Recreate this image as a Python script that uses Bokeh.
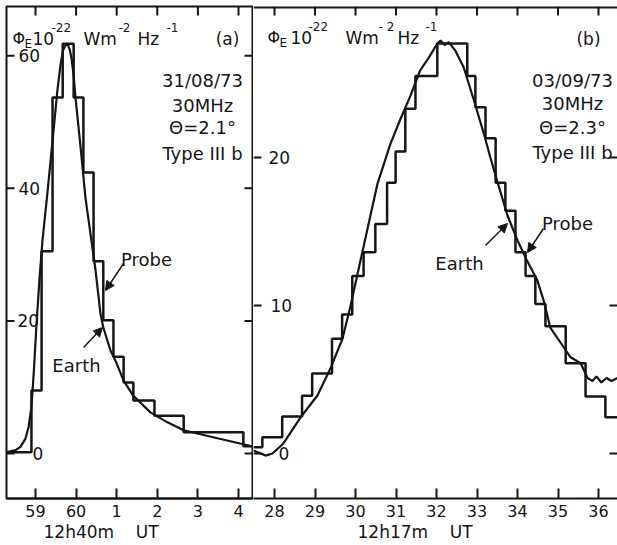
from bokeh.plotting import figure
from bokeh.layouts import row
from bokeh.models import LinearAxis, FixedTicker, Range1d, Arrow, NormalHead, Title
from bokeh.core.properties import value
from bokeh.embed import file_html
from bokeh.resources import INLINE

FONT = "DejaVu Sans"
INK = "#151515"

# ---------------- data: panel (a) 31/08/73 ----------------
a_tick_values = [59, 60, 61, 62, 63, 64]
a_tick_labels = ["59", "60", "1", "2", "3", "4"]
a_y_ticks = [0, 20, 40, 60]
a_y_labels = ["0", "20", "40", "60"]

# Probe: step histogram (bin edges in minutes, flux per bin)
probe_a_edges = [58.29, 58.90, 59.15, 59.42, 59.67, 59.94, 60.18, 60.43, 60.67,
                 60.92, 61.17, 61.41, 61.93, 62.65, 64.12, 64.35]
probe_a_vals = [0.2, 9.5, 30.5, 53.7, 61.8, 53.7, 42.4, 29.0, 20.1, 14.6, 10.7,
                8.0, 5.7, 3.2, 1.1]

# Earth: smooth curve
earth_a_t = [58.29, 58.51, 58.63, 58.75, 58.83, 58.90, 58.96, 59.02, 59.10, 59.17,
             59.30, 59.42, 59.54, 59.62, 59.68, 59.74, 59.79, 59.84, 59.89, 59.94,
             59.985, 60.11, 60.23, 60.31, 60.48, 60.60, 60.67, 60.85, 60.97, 61.17,
             61.41, 61.83, 62.25, 62.65, 63.48, 64.12, 64.35]
earth_a_v = [0.2, 0.5, 1.0, 2.2, 4.0, 7.0, 12.5, 19.0, 26.5, 32.0,
             39.7, 47.2, 54.8, 58.8, 60.8, 61.6, 61.7, 61.0, 59.5, 57.0,
             53.7, 46.2, 38.6, 35.1, 27.6, 21.1, 19.0, 15.5, 14.0, 11.0,
             8.7, 6.2, 4.7, 3.5, 2.3, 1.4, 1.05]

# ---------------- data: panel (b) 03/09/73 ----------------
b_tick_values = [28, 29, 30, 31, 32, 33, 34, 35, 36]
b_tick_labels = ["28", "29", "30", "31", "32", "33", "34", "35", "36"]
b_y_ticks = [0, 10, 20]
b_y_labels = ["0", "10", "20"]

probe_b_edges = [27.48, 27.70, 28.19, 28.68, 28.93, 29.42, 29.67, 29.92, 30.20,
                 30.49, 30.78, 30.99, 31.23, 31.48, 32.02, 32.76, 32.96, 33.21,
                 33.46, 33.70, 33.95, 34.20, 34.44, 34.69, 35.19, 35.68, 36.17, 36.47]
probe_b_vals = [0.43, 1.1, 2.5, 3.9, 5.4, 7.75, 9.4, 12.0, 13.6, 15.5, 18.3, 20.4,
                23.3, 25.5, 27.7, 25.5, 23.4, 21.3, 18.3, 16.4, 13.6, 12.0, 10.1,
                8.6, 6.1, 3.85, 2.45]

earth_b_t = [27.48, 27.78, 27.95, 28.22, 28.64, 29.06, 29.38, 29.68, 29.88, 30.12,
             30.54, 30.86, 31.11, 31.36, 31.60, 31.80, 32.02, 32.10, 32.20, 32.30,
             32.47, 32.67, 32.92, 33.17, 33.33, 33.50, 33.75, 34.00, 34.24, 34.49,
             34.65, 34.81, 35.06, 35.31, 35.56, 35.73, 35.85, 35.95, 36.07, 36.20,
             36.32, 36.47]
earth_b_v = [0.2, -0.14, 0.0, 0.68, 2.43, 3.92, 5.74, 7.77, 10.0, 13.0,
             18.2, 20.9, 22.6, 24.2, 25.9, 26.7, 27.7, 27.9, 27.6, 27.8,
             27.2, 26.1, 23.9, 21.6, 20.0, 18.4, 16.1, 14.4, 13.0, 11.7,
             10.3, 8.5, 7.5, 6.5, 6.1, 5.1, 4.9, 5.2, 4.8, 5.1,
             4.9, 5.1]


# ---------------- layout helpers (reference pixel -> data) ----------------
def ax(px): return 59 + (px - 35) / 40.6
def ay(py): return (453 - py) / 6.63
def bx(px): return 28 + (px - 274) / 40.5
def by(py): return (453 - py) / 14.8


def staircase(edges, vals):
    xs, ys = [], []
    for i, v in enumerate(vals):
        xs += [edges[i], edges[i + 1]]
        ys += [v, v]
    return xs, ys


TOP = 6        # page y of frame top
BOT = 498      # page y of frame bottom
H = 544
MB = H - BOT


def panel(width, xr, yr, xt, xl, border_left, border_right):
    p = figure(width=width, height=H, x_range=Range1d(*xr), y_range=Range1d(*yr),
               x_axis_type=None, y_axis_type=None, output_backend="svg",
               toolbar_location=None, min_border_left=border_left,
               min_border_right=border_right, min_border_top=TOP, min_border_bottom=MB)
    p.background_fill_color = "white"
    p.border_fill_color = "white"
    p.outline_line_color = None
    below = LinearAxis(ticker=FixedTicker(ticks=xt),
                       major_label_overrides={t: l for t, l in zip(xt, xl)})
    below.axis_line_color = INK
    below.axis_line_width = 2
    below.major_tick_line_color = INK
    below.major_tick_line_width = 2
    below.major_tick_in = 10
    below.major_tick_out = 0
    below.minor_tick_line_color = None
    below.major_label_text_font_size = "16px"
    below.major_label_text_font = FONT
    below.major_label_text_color = INK
    below.major_label_standoff = 6
    p.add_layout(below, "below")
    return p


def texts(p, xs, ys, labels, size, align="left", baseline="alphabetic"):
    p.text(x=xs, y=ys, text=labels, text_font=value(FONT), text_font_size=size,
           text_align=align, text_baseline=baseline, text_color=INK)


def arrow(p, x0, y0, x1, y1):
    p.add_layout(Arrow(end=NormalHead(size=9, fill_color=INK, line_color=INK, line_width=1),
                       x_start=x0, y_start=y0, x_end=x1, y_end=y1,
                       line_color=INK, line_width=1.5))


def ticks(p, xt, yt, fx, fy, x_lo, x_hi):
    # inward tick marks on the top, left and right edges
    p.segment(x0=xt, y0=[fy(TOP)] * len(xt), x1=xt, y1=[fy(TOP + 9)] * len(xt),
              line_color=INK, line_width=2)
    p.segment(x0=[fx(x_lo)] * len(yt), y0=yt, x1=[fx(x_lo + 8)] * len(yt), y1=yt,
              line_color=INK, line_width=2)
    p.segment(x0=[fx(x_hi - 8)] * len(yt), y0=yt, x1=[fx(x_hi)] * len(yt), y1=yt,
              line_color=INK, line_width=2)


# ---------------- panel (a) ----------------
A_L, A_R = 6, 252
pa = panel(A_R + 1, (ax(A_L), ax(A_R)), (ay(BOT), ay(TOP)), a_tick_values, a_tick_labels,
           A_L, 1)
pa.outline_line_color = INK
pa.outline_line_width = 2
ticks(pa, a_tick_values, a_y_ticks, ax, ay, A_L, A_R)

sx, sy = staircase(probe_a_edges, probe_a_vals)
pa.line(sx, sy, line_color=INK, line_width=2.5)
pa.line(earth_a_t, earth_a_v, line_color=INK, line_width=2.2)

texts(pa, [ax(32), ax(17), ax(18), ax(18)], a_y_ticks, a_y_labels, "17px",
      baseline="middle")

texts(pa, [ax(12)], [ay(38)], ["\u03a6"], "16px")
texts(pa, [ax(24)], [ay(43)], ["E"], "12px")
texts(pa, [ax(32), ax(83), ax(137)], [ay(38)] * 3, ["10", "Wm", "Hz"], "17px")
texts(pa, [ax(51), ax(118), ax(166)], [ay(27)] * 3, ["-22", "-2", "-1"], "12px")
texts(pa, [ax(227)], [ay(38)], ["(a)"], "17px", align="center")

texts(pa, [ax(202)] * 4, [ay(80), ay(105), ay(127), ay(153)],
      ["31/08/73", "30MHz", "\u0398=2.1\u00b0", "Type III b"], "18px", align="center")
texts(pa, [ax(146), ax(76)], [ay(259), ay(365)], ["Probe", "Earth"], "18px", align="center")
arrow(pa, ax(123), ay(263), ax(105), ay(290))
arrow(pa, ax(83), ay(347), ax(102), ay(327))

pa.add_layout(Title(text="12h40m\u00a0\u00a0\u00a0\u00a0UT", align="left", offset=37,
                    text_font=FONT, text_font_size="17px", text_font_style="normal",
                    text_color=INK, standoff=1), "below")

# ---------------- panel (b) ----------------
B_L, B_R = 253, 617
pb = panel(B_R - B_L, (bx(B_L), bx(B_R)), (by(BOT), by(TOP)), b_tick_values, b_tick_labels,
           0, 0)
pb.hspan(y=[by(TOP)], line_color=INK, line_width=4)
ticks(pb, b_tick_values, b_y_ticks, bx, by, B_L, B_R)

sx, sy = staircase(probe_b_edges, probe_b_vals)
pb.line(sx, sy, line_color=INK, line_width=2.5)
pb.line(earth_b_t, earth_b_v, line_color=INK, line_width=2.2)

texts(pb, [bx(278), bx(270), bx(268)], b_y_ticks, b_y_labels, "17px", baseline="middle")

texts(pb, [bx(267)], [by(37)], ["\u03a6"], "16px")
texts(pb, [bx(279)], [by(42)], ["E"], "12px")
texts(pb, [bx(290), bx(345), bx(397)], [by(37)] * 3, ["10", "Wm", "Hz"], "17px")
texts(pb, [bx(308), bx(378), bx(425)], [by(26)] * 3, ["-22", "- 2", "-1"], "12px")
texts(pb, [bx(588)], [by(38)], ["(b)"], "17px", align="center")

texts(pb, [bx(572)] * 4, [by(80), by(103), by(127), by(152)],
      ["03/09/73", "30MHz", "\u0398=2.3\u00b0", "Type III b"], "18px", align="center")
texts(pb, [bx(459), bx(567)], [by(263), by(223)], ["Earth", "Probe"], "18px", align="center")
arrow(pb, bx(485), by(245), bx(507), by(223))
arrow(pb, bx(543), by(228), bx(527), by(252))

pb.add_layout(Title(text="12h17m\u00a0\u00a0\u00a0\u00a0UT", align="left", offset=104,
                    text_font=FONT, text_font_size="17px", text_font_style="normal",
                    text_color=INK, standoff=1), "below")

layout = row(pa, pb, spacing=0)
open("out.html", "w").write(file_html(layout, INLINE))
